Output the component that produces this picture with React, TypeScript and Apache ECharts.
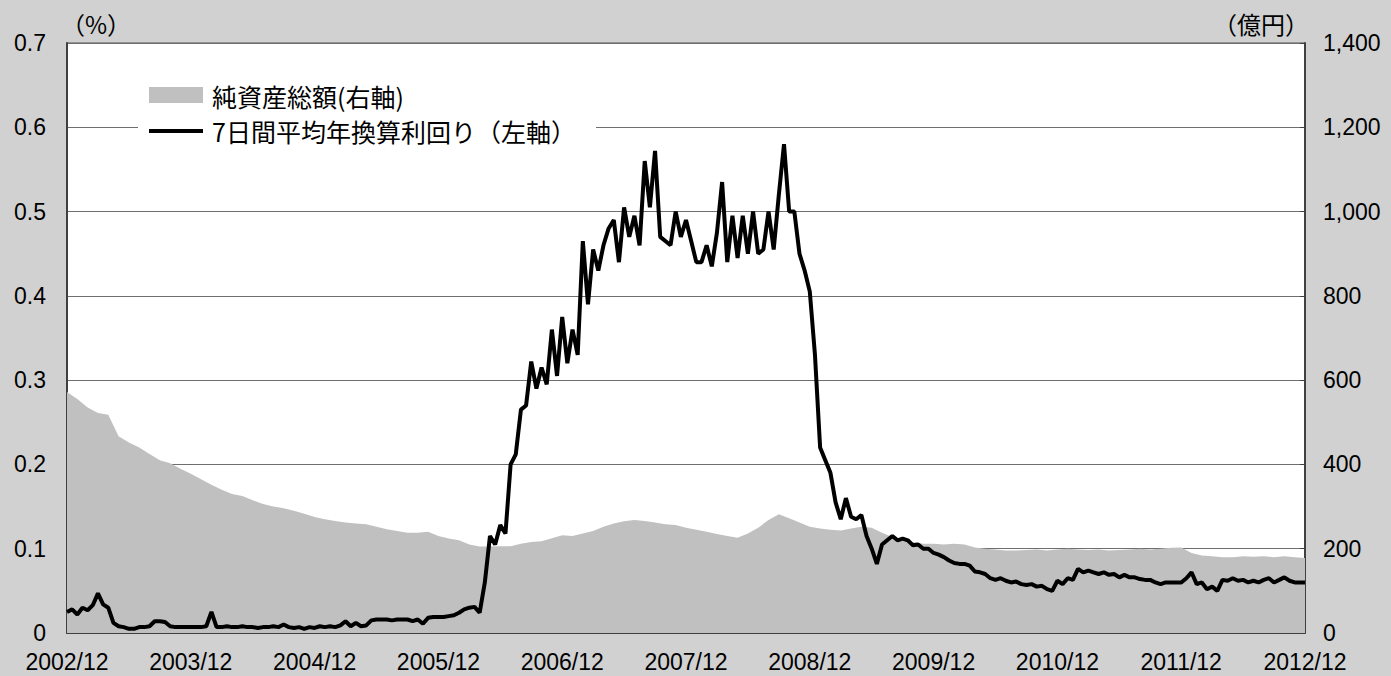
import React, { useEffect, useRef } from "react";
import * as echarts from "echarts";

// x axis: months elapsed since 2002/12 (0 .. 120), tick every 12 months
const yearTicks = ["2002/12", "2003/12", "2004/12", "2005/12", "2006/12", "2007/12", "2008/12", "2009/12", "2010/12", "2011/12", "2012/12"];

// 純資産総額 (億円), month-end values from 2002/12 to 2012/12 (121 values)
const netAssets = [
  572, 555, 535, 522, 518, 467, 452, 440, 425, 410, 403, 390,
  378, 365, 352, 340, 330, 325, 315, 306, 300, 296, 290, 283,
  275, 270, 266, 262, 260, 258, 252, 246, 242, 238, 238, 240,
  230, 224, 220, 210, 205, 205, 206, 206, 212, 216, 218, 225,
  232, 230, 236, 242, 252, 260, 265, 268, 266, 262, 258, 256,
  250, 245, 240, 235, 230, 226, 236, 250, 268, 282, 272, 262,
  252, 248, 245, 243, 248, 252, 250, 238, 228, 220, 216, 212,
  212, 210, 212, 210, 203, 200, 198, 196, 196, 197, 198, 196,
  198, 200, 198, 197, 198, 196, 197, 198, 200, 198, 200, 202,
  203, 190, 184, 182, 180, 180, 182, 181, 182, 180, 182, 180,
  178,
];

// 7日間平均年換算利回り (%), half-monthly readings from 2002/12 to 2012/12 (241 values)
const yieldValues = [
  0.025, 0.028, 0.022, 0.03, 0.027, 0.033, 0.047, 0.034, 0.03, 0.012,
  0.008, 0.007, 0.005, 0.005, 0.007, 0.007, 0.008, 0.014, 0.014, 0.013,
  0.008, 0.007, 0.007, 0.007, 0.007, 0.007, 0.007, 0.008, 0.025, 0.007,
  0.007, 0.008, 0.007, 0.007, 0.008, 0.007, 0.007, 0.006, 0.007, 0.007,
  0.008, 0.007, 0.01, 0.007, 0.006, 0.007, 0.005, 0.007, 0.006, 0.008,
  0.007, 0.008, 0.007, 0.009, 0.014, 0.008, 0.012, 0.008, 0.009, 0.015,
  0.016, 0.016, 0.016, 0.015, 0.016, 0.016, 0.016, 0.014, 0.016, 0.011,
  0.018, 0.019, 0.019, 0.019, 0.02, 0.021, 0.024, 0.028, 0.03, 0.031,
  0.024, 0.06, 0.115, 0.105, 0.128, 0.118, 0.2, 0.212, 0.265, 0.27,
  0.322, 0.29, 0.315, 0.295, 0.36, 0.305, 0.375, 0.32, 0.36, 0.33,
  0.465, 0.39, 0.455, 0.43, 0.46, 0.48, 0.49, 0.44, 0.505, 0.47,
  0.495, 0.46, 0.56, 0.505, 0.572, 0.47, 0.465, 0.46, 0.5, 0.47,
  0.49, 0.465, 0.44, 0.44, 0.46, 0.435, 0.475, 0.535, 0.44, 0.495,
  0.445, 0.495, 0.45, 0.5, 0.45, 0.455, 0.5, 0.455, 0.52, 0.58,
  0.5, 0.5, 0.45, 0.43, 0.405, 0.33, 0.22, 0.205, 0.19, 0.155,
  0.135, 0.16, 0.138, 0.135, 0.14, 0.115, 0.1, 0.082, 0.105, 0.11,
  0.115, 0.11, 0.112, 0.11, 0.104, 0.105, 0.1, 0.1, 0.095, 0.093,
  0.09, 0.086, 0.083, 0.082, 0.082, 0.08, 0.073, 0.072, 0.07, 0.065,
  0.063, 0.065, 0.062, 0.06, 0.061, 0.058, 0.057, 0.058, 0.055, 0.056,
  0.052, 0.05, 0.062, 0.058, 0.065, 0.063, 0.076, 0.072, 0.074, 0.072,
  0.07, 0.072, 0.069, 0.07, 0.066, 0.069, 0.066, 0.066, 0.064, 0.063,
  0.063, 0.06, 0.058, 0.06, 0.06, 0.06, 0.06, 0.065, 0.072, 0.058,
  0.06, 0.052, 0.055, 0.05, 0.063, 0.062, 0.065, 0.062, 0.063, 0.06,
  0.062, 0.06, 0.063, 0.065, 0.06, 0.063, 0.066, 0.062, 0.06, 0.06,
  0.06,
];

const leftTicks = ["0", "0.1", "0.2", "0.3", "0.4", "0.5", "0.6", "0.7"];
const rightTicks = ["0", "200", "400", "600", "800", "1,000", "1,200", "1,400"];

const seriesNames = ["純資産総額(右軸)", "7日間平均年換算利回り（左軸）"];
const leftUnit = "（%）";
const rightUnit = "（億円）";

const FONT = "'Noto Sans CJK JP', 'Noto Sans', sans-serif";
const NUM_FONT = "'Liberation Sans', Arial, sans-serif";
const AREA = "#c0c0c0";

export default function App() {
  const ref = useRef<HTMLDivElement>(null);

  useEffect(() => {
    if (!ref.current) return;
    const chart = echarts.init(ref.current, undefined, { renderer: "svg" });

    const assetData = netAssets.map((v, i) => [i, v]);
    const yieldData = yieldValues.map((v, i) => [i / 2, v]);

    const labelBase = { fontSize: 23, color: "#000", fontFamily: NUM_FONT, lineHeight: 24 };

    chart.setOption({
      animation: false,
      backgroundColor: "#d1d1d1",
      textStyle: { fontFamily: FONT },
      grid: {
        left: 67,
        right: 86,
        top: 43,
        bottom: 43,
        show: true,
        backgroundColor: "#ffffff",
        borderColor: "#555555",
        borderWidth: 1,
      },
      graphic: [
        {
          type: "rect",
          z: 100,
          shape: { x: 138, y: 79, width: 458, height: 66 },
          style: { fill: "#ffffff" },
        },
        {
          type: "rect",
          z: 101,
          shape: { x: 149, y: 87, width: 54, height: 16 },
          style: { fill: AREA },
        },
        {
          type: "line",
          z: 101,
          shape: { x1: 149, y1: 131, x2: 203, y2: 131 },
          style: { stroke: "#000", lineWidth: 4 },
        },
        {
          type: "text",
          z: 101,
          x: 212,
          y: 96,
          style: { text: seriesNames[0], fontSize: 25, fontFamily: FONT, fill: "#000", verticalAlign: "middle" },
        },
        {
          type: "text",
          z: 101,
          x: 212,
          y: 131,
          style: { text: seriesNames[1], fontSize: 25, fontFamily: FONT, fill: "#000", verticalAlign: "middle" },
        },
        {
          type: "text",
          z: 101,
          x: 61,
          y: 23,
          style: { text: leftUnit, fontSize: 24, fontFamily: FONT, fill: "#000", verticalAlign: "middle", align: "left" },
        },
        {
          type: "text",
          z: 101,
          x: 1309,
          y: 23,
          style: { text: rightUnit, fontSize: 24, fontFamily: FONT, fill: "#000", verticalAlign: "middle", align: "right" },
        },
      ],
      xAxis: {
        type: "value",
        min: 0,
        max: 120,
        interval: 12,
        axisLine: { show: true, lineStyle: { color: "#404040", width: 2 } },
        axisTick: { show: true, inside: true, length: 6, lineStyle: { color: "#404040", width: 1.5 } },
        splitLine: { show: false },
        axisLabel: {
          ...labelBase,
          margin: 17,
          formatter: (v: number) => yearTicks[Math.round(v / 12)] ?? "",
        },
      },
      yAxis: [
        {
          type: "value",
          min: 0,
          max: 0.7,
          interval: 0.1,
          position: "left",
          axisLine: { show: true, lineStyle: { color: "#404040", width: 2 } },
          axisTick: { show: false },
          splitLine: { show: true, lineStyle: { color: "#6e6e6e", width: 1 } },
          axisLabel: {
            ...labelBase,
            margin: 21,
            padding: [4, 0, 0, 0],
            formatter: (v: number) => leftTicks[Math.round(v * 10)] ?? "",
          },
        },
        {
          type: "value",
          min: 0,
          max: 1400,
          interval: 200,
          position: "right",
          axisLine: { show: true, lineStyle: { color: "#404040", width: 2 } },
          axisTick: { show: true, inside: true, length: 5, lineStyle: { color: "#404040" } },
          splitLine: { show: false },
          axisLabel: {
            ...labelBase,
            margin: 18,
            padding: [4, 0, 0, 0],
            formatter: (v: number) => rightTicks[Math.round(v / 200)] ?? "",
          },
        },
      ],
      series: [
        {
          name: seriesNames[0],
          type: "line",
          yAxisIndex: 1,
          symbol: "none",
          data: assetData,
          lineStyle: { width: 0, color: AREA },
          itemStyle: { color: AREA },
          areaStyle: { color: AREA, opacity: 1 },
          z: 2,
        },
        {
          name: seriesNames[1],
          type: "line",
          yAxisIndex: 0,
          symbol: "none",
          data: yieldData,
          lineStyle: { width: 4, color: "#000" },
          itemStyle: { color: "#000" },
          z: 3,
        },
      ],
    });

    return () => chart.dispose();
  }, []);

  return (
    <div
      ref={ref}
      style={{ position: "absolute", left: 0, top: 0, width: 1391, height: 676 }}
    />
  );
}
